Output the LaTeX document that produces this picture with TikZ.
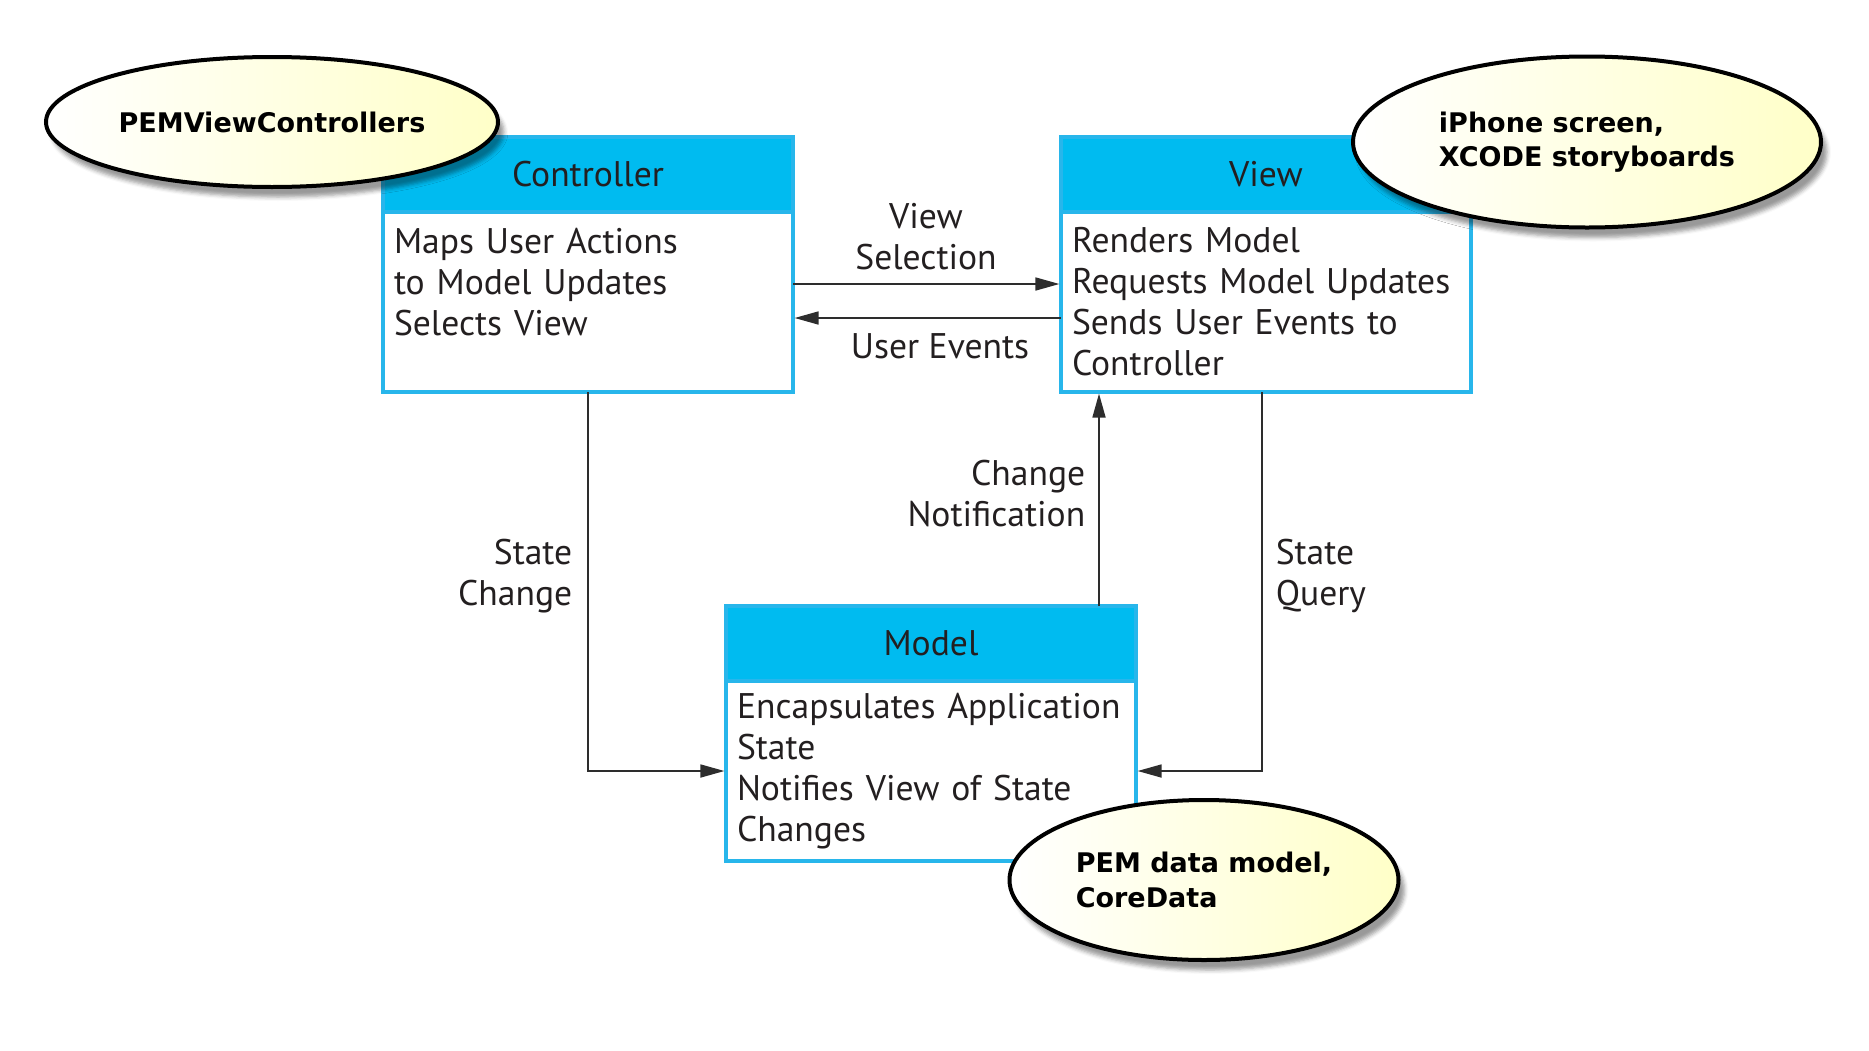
\documentclass[tikz,border=0pt]{standalone}
\usepackage{fontspec}
\setmainfont{PT Sans}
\newfontfamily\notefamily{DejaVu Sans}
\usetikzlibrary{positioning,shapes.geometric,arrows.meta,shadows.blur}

\definecolor{mvcblue}{RGB}{0,187,240}
\definecolor{mvcedge}{RGB}{40,182,235}
\definecolor{notetint}{RGB}{255,255,200}
\definecolor{inkgray}{RGB}{35,31,32}
\definecolor{flowgray}{RGB}{45,45,45}

\newcommand\mvcfont{\fontsize{17.8pt}{20.5pt}\selectfont\hyphenpenalty=10000}
\newcommand\notefont{\notefamily\fontsize{13.5pt}{17.3pt}\selectfont\bfseries}

\tikzset{
  every picture/.style={line width=0.75pt},
  mvchead/.style={draw=mvcedge, fill=mvcblue, line width=1.75pt, outer sep=0pt,
    minimum width=205pt, minimum height=37.5pt, inner sep=0pt, font=\mvcfont, text=inkgray},
  mvcbody/.style={draw=mvcedge, fill=white, line width=1.75pt, outer sep=0pt,
    minimum width=205pt, minimum height=90pt, text width=194pt, inner xsep=5.5pt, inner ysep=0pt,
    align=left, font=\mvcfont, text=inkgray},
  note/.style={ellipse, draw=black, line width=2pt, left color=white, right color=notetint,
    blur shadow={shadow xshift=3pt, shadow yshift=-5pt, shadow opacity=40},
    inner sep=0pt, align=left, font=\notefont, text=black},
  flow/.style={draw=flowgray, line width=0.85pt, -{Triangle[length=12pt,width=6.5pt]}, shorten >=0.8pt},
  flowlabel/.style={font=\mvcfont, text=inkgray, inner sep=0pt}
}

\begin{document}
\begin{tikzpicture}[x=0.5pt,y=0.5pt,yscale=-1,xscale=1]
	\useasboundingbox (0,0) rectangle (1869,1050);
	
	% boxes
	\node[mvchead] (ctrlhead) at (588,174.5) {Controller};
	\node[mvcbody, below=0pt of ctrlhead] (ctrl) {Maps User Actions\\to Model Updates\\Selects View\\~};
	\node[mvchead] (viewhead) at (1266,174.5) {View};
	\node[mvcbody, below=0pt of viewhead] (view) {Renders Model\\Requests Model Updates\\Sends User Events to\\Controller};
	\node[mvchead] (modelhead) at (931,643.5) {Model};
	\node[mvcbody, below=0pt of modelhead] (model) {Encapsulates Application\\State\\Notifies View of State\\Changes};
	
	% connectors
	\draw[flow] (ctrl.east |- 0,284) -- (view.west |- 0,284);
	\draw[flow] (view.west |- 0,318) -- (ctrl.east |- 0,318);
	\draw[flow] (ctrl.south) |- (model.west);
	\draw[flow] (modelhead.north -| 1099,0) -- (view.south -| 1099,0);
	\draw[flow] (view.south -| 1262,0) |- (model.east);
	
	\node[flowlabel, align=center] (sellabel) at (926,237) {View\\Selection};
	\node[flowlabel] (eventlabel) at (940,346) {User Events};
	\node[flowlabel, align=right, anchor=east] (changelabel) at (573,576) {State\\Change};
	\node[flowlabel, align=right, anchor=east] (notilabel) at (1086,494) {Change\\Notification};
	\node[flowlabel, align=left, anchor=west] (querylabel) at (1275,576) {State\\Query};
	
	% notes
	\node[note, minimum width=226pt, minimum height=65pt] (ctrlnote) at (272,122) {PEMViewControllers};
	\node[note, minimum width=234pt, minimum height=85.5pt] (viewnote) at (1587,142) {iPhone screen,\\XCODE storyboards};
	\node[note, minimum width=194.5pt, minimum height=80pt] (modelnote) at (1204,880) {PEM data model,\\CoreData};
	
\end{tikzpicture}
\end{document}
